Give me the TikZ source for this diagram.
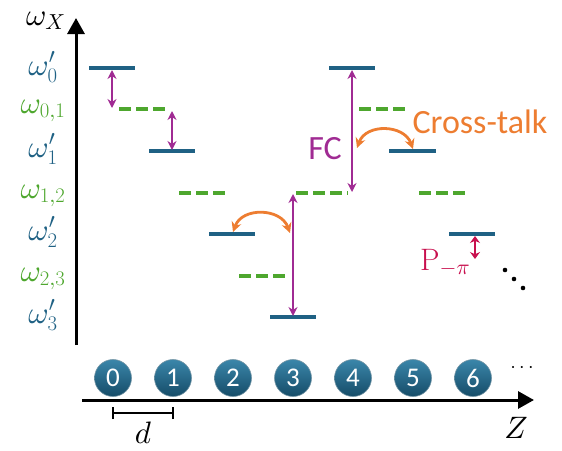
\documentclass[tikz,border=0pt]{standalone}
\usepackage{fontspec}
\DeclareFontShape{OML}{cmm}{m}{it}{<->cmmi10}{}
\DeclareFontShape{OMS}{cmsy}{m}{n}{<->cmsy10}{}
\newfontfamily\carl{Carlito}
\usetikzlibrary{arrows.meta}
\definecolor{lvlblue}{HTML}{1F6184}
\definecolor{lvlgreen}{HTML}{4EA72E}
\definecolor{fcpurple}{HTML}{A02B93}
\definecolor{xorange}{HTML}{ED7D31}
\definecolor{pcrimson}{HTML}{C8104E}
\definecolor{ballhi}{HTML}{3A86AA}
\definecolor{balllo}{HTML}{164C68}
\tikzset{
  lvl/.style={draw=lvlblue, line width=3.5pt},
  mid/.style={draw=lvlgreen, line width=3.5pt, dash pattern=on 12pt off 5pt},
  fcarrow/.style={draw=fcpurple, line width=2.6pt, {Stealth[length=9pt,width=9pt]}-{Stealth[length=9pt,width=9pt]}},
  xarrow/.style={draw=xorange, line width=2.8pt, {Stealth[length=10pt,width=10pt]}-{Stealth[length=10pt,width=10pt]}},
  axis/.style={draw=black, line width=3pt, -{Triangle[length=16pt,width=17pt]}},
  ball/.style={circle, minimum size=37pt, inner sep=0pt, top color=ballhi, bottom color=balllo, draw=balllo!60!white, line width=0.6pt, text=white, font=\carl\fontsize{27}{30}\selectfont},
  mathfont/.style={font=\fontsize{31}{34}\selectfont},
  bluelab/.style={text=lvlblue, anchor=base, mathfont},
  greenlab/.style={text=lvlgreen, anchor=base, mathfont},
}
\begin{document}
\begin{tikzpicture}[x=1pt,y=-1pt]
\useasboundingbox (0,0) rectangle (562,450);
% axes
\coordinate (ybot) at (76,345);
\coordinate (ytop) at (76,18);
\draw[axis] (ybot) -- (ytop);
\coordinate (xl) at (82,400);
\coordinate (xr) at (534,400);
\draw[axis] (xl) -- (xr);
\node[mathfont, anchor=base west, inner sep=0pt] (wx) at (26,25) {$\omega_X$};
\node[mathfont, anchor=base, inner sep=0pt] (zlab) at (516,438) {$Z$};
% left labels
\node[bluelab] (l0) at (43,75) {$\omega'_0$};
\node[greenlab] (l01) at (43,113) {$\omega_{0,1}$};
\node[bluelab] (l1) at (43,157) {$\omega'_1$};
\node[greenlab] (l12) at (43,198) {$\omega_{1,2}$};
\node[bluelab] (l2) at (43,240) {$\omega'_2$};
\node[greenlab] (l23) at (43,281) {$\omega_{2,3}$};
\node[bluelab] (l3) at (43,323) {$\omega'_3$};
% blue levels
\coordinate (b0a) at (89,68);   \coordinate (b0b) at (135,68);
\coordinate (b1a) at (149,151); \coordinate (b1b) at (195,151);
\coordinate (b2a) at (209,234); \coordinate (b2b) at (255,234);
\coordinate (b3a) at (270,317); \coordinate (b3b) at (316,317);
\coordinate (b4a) at (329,68);  \coordinate (b4b) at (375,68);
\coordinate (b5a) at (389,151); \coordinate (b5b) at (436,151);
\coordinate (b6a) at (449,234); \coordinate (b6b) at (495,234);
\foreach \i in {0,...,6} { \draw[lvl] (b\i a) -- (b\i b); }
% green levels
\coordinate (g0a) at (119,109); \coordinate (g0b) at (166,109);
\coordinate (g1a) at (179,193); \coordinate (g1b) at (226,193);
\coordinate (g2a) at (239,276); \coordinate (g2b) at (286,276);
\coordinate (g3a) at (296,193); \coordinate (g3b) at (348,193);
\coordinate (g4a) at (359,109); \coordinate (g4b) at (406,109);
\coordinate (g5a) at (419,193); \coordinate (g5b) at (466,193);
\foreach \i in {0,...,5} { \draw[mid] (g\i a) -- (g\i b); }
% purple arrows
\coordinate (p1a) at (112,70);  \coordinate (p1b) at (112,108);
\coordinate (p2a) at (172,111); \coordinate (p2b) at (172,150);
\coordinate (p3a) at (352,70);  \coordinate (p3b) at (352,192);
\coordinate (p4a) at (293,194); \coordinate (p4b) at (293,316);
\draw[fcarrow] (p1a) -- (p1b);
\draw[fcarrow] (p2a) -- (p2b);
\draw[fcarrow] (p3a) -- (p3b);
\draw[fcarrow] (p4a) -- (p4b);
\node[text=fcpurple, font=\carl\fontsize{34}{36}\selectfont] (fc) at (325,149) {FC};
% P_-pi
\coordinate (pa) at (475,236); \coordinate (pb) at (475,259);
\draw[draw=pcrimson, line width=2.8pt, {Stealth[length=7pt,width=10pt]}-{Stealth[length=7pt,width=10pt]}] (pa) -- (pb);
\node[text=pcrimson, anchor=base west, inner sep=0pt, mathfont] (pl) at (420,270) {$\mathrm{P}_{-\pi}$};
% cross-talk arcs
\coordinate (x1a) at (357,148); \coordinate (x1b) at (413,149);
\coordinate (x2a) at (233,232); \coordinate (x2b) at (290,233);
\draw[xarrow] (x1a) to[out=70,in=110,looseness=1.2] (x1b);
\draw[xarrow] (x2a) to[out=70,in=110,looseness=1.2] (x2b);
\node[text=xorange, font=\carl\fontsize{34}{36}\selectfont] (ct) at (480,122) {Cross-talk};
% diagonal dots
\fill (505,270) circle (2.3pt);
\fill (514,279) circle (2.3pt);
\fill (523,288) circle (2.3pt);
% atoms
\foreach \k in {0,...,6} { \node[ball] (atom\k) at (113+60*\k,378) {\k}; }
\node[font=\fontsize{20}{22}\selectfont] (hdots) at (522,368) {$\cdots$};
% d bar
\coordinate (da) at (113,413); \coordinate (db) at (173,413);
\draw[line width=2.5pt] (da) -- (db);
\draw[line width=2.5pt] ([yshift=-6pt]da) -- ([yshift=6pt]da);
\draw[line width=2.5pt] ([yshift=-6pt]db) -- ([yshift=6pt]db);
\node[mathfont, anchor=base, inner sep=0pt] (dl) at (143,443) {$d$};
\end{tikzpicture}
\end{document}
